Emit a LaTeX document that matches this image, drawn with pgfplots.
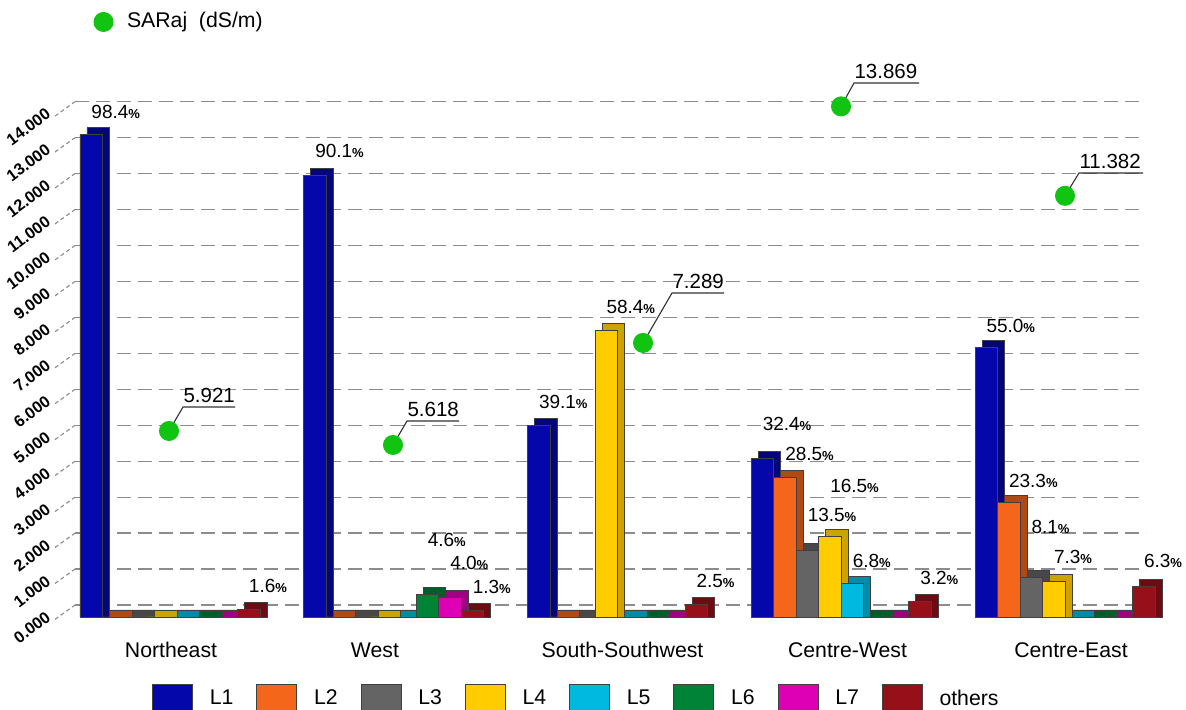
\documentclass[border=0pt]{standalone}
\usepackage{fontspec}
\setmainfont{Liberation Sans}
\usepackage{pgfplots}
\usepackage{pgfplotstable}
\pgfplotsset{compat=1.18}

\definecolor{cA}{RGB}{4,8,170}
\definecolor{cB}{RGB}{244,102,26}
\definecolor{cC}{RGB}{100,100,100}
\definecolor{cD}{RGB}{255,204,0}
\definecolor{cE}{RGB}{0,185,225}
\definecolor{cF}{RGB}{0,130,55}
\definecolor{cG}{RGB}{222,0,180}
\definecolor{cH}{RGB}{150,15,25}
\definecolor{sargreen}{RGB}{18,196,18}

% bar heights (percent)
\pgfplotstableread{
x L1 L2 L3 L4 L5 L6 L7 others
0 98.4 0 0 0 0 0 0 1.6
1 90.1 0 0 0 0 4.6 4.0 1.3
2 39.1 0 0 58.4 0 0 0 2.5
3 32.4 28.5 13.5 16.5 6.8 0 0 3.2
4 55.0 23.3 8.1 7.3 0 0 0 6.3
}\bars

% percent labels: position (x, y in percent units) and text
\pgfplotstableread{
x y label
-0.3531 101.8 98.4
0.3508 4.9 1.6
0.6469 93.7 90.1
1.1497 14.35 4.6
1.2503 9.6 4.0
1.3508 4.7 1.3
1.6469 42.65 39.1
1.9486 62.04 58.4
2.3508 5.92 2.5
2.6469 38.16 32.4
2.7475 31.84 28.5
2.8480 19.39 13.5
2.9486 25.31 16.5
3.0492 10.20 6.8
3.3508 6.73 3.2
3.6469 58.16 55.0
3.7475 26.53 23.3
3.8480 17.14 8.1
3.9486 11.02 7.3
4.3508 10.0 6.3
}\pctlabels

% SARaj points
\pgfplotstableread{
x y
-0.0045 4.84
0.9966 4.451
2.1140 7.289
2.9989 13.869
4.0000 11.382
}\sar

\pgfplotstableread{
x y label
0.0581 5.508 5.921
1.0592 5.118 5.618
2.2436 8.679 7.289
3.0570 14.520 13.869
4.0626 12.017 11.382
}\sarlab

\pgfplotsset{
  frame/.style={scale only axis, width=428.4pt, height=206.8pt,
    at={(30pt,37.2pt)}, anchor=south west,
    xmin=-0.4246, xmax=4.3620},
  mybar/.style={ybar, bar width=0.10056, line width=0.3pt, draw=black!75,
    legend image code/.code={\draw[##1, line width=0.3pt] (0pt,-6pt) rectangle (16pt,6pt);}},
  sidetick/.style={black!45, line width=0.45pt, dash pattern=on 1.6pt off 1.2pt, forget plot},
}

\begin{document}
\begin{tikzpicture}
\path[use as bounding box] (0,0) rectangle (474.4pt,284pt);

% ---- grid / ticks axis (SARaj units)
\begin{axis}[frame, ymin=-0.3338, ymax=14.047,
  axis line style={draw=none}, clip=false,
  ytick={0,1,...,14},
  xtick={0.0045,0.916,2.0223,3.0279,4.0268},
  xticklabels={Northeast,West,South-Southwest,Centre-West,Centre-East},
  major tick length=0pt,
  ymajorgrids, major grid style={black!45, line width=0.5pt, dash pattern=on 5.6pt off 2.8pt},
  yticklabel={\pgfmathprintnumber[fixed,fixed zerofill,precision=3,assume math mode=true]{\tick}},
  yticklabel style={font=\fontsize{6.5}{7}\selectfont\bfseries, rotate=37, anchor=east,
    inner sep=0pt, xshift=-10.8pt, yshift=3.2pt},
  xticklabel style={font=\fontsize{8.5}{10}\selectfont, anchor=base, yshift=-16pt, inner sep=0pt},
]
\addplot[sidetick] coordinates {(-0.514,-0.40) (-0.4246,0)};
\addplot[sidetick] coordinates {(-0.514,0.60) (-0.4246,1)};
\addplot[sidetick] coordinates {(-0.514,1.60) (-0.4246,2)};
\addplot[sidetick] coordinates {(-0.514,2.60) (-0.4246,3)};
\addplot[sidetick] coordinates {(-0.514,3.60) (-0.4246,4)};
\addplot[sidetick] coordinates {(-0.514,4.60) (-0.4246,5)};
\addplot[sidetick] coordinates {(-0.514,5.60) (-0.4246,6)};
\addplot[sidetick] coordinates {(-0.514,6.60) (-0.4246,7)};
\addplot[sidetick] coordinates {(-0.514,7.60) (-0.4246,8)};
\addplot[sidetick] coordinates {(-0.514,8.60) (-0.4246,9)};
\addplot[sidetick] coordinates {(-0.514,9.60) (-0.4246,10)};
\addplot[sidetick] coordinates {(-0.514,10.60) (-0.4246,11)};
\addplot[sidetick] coordinates {(-0.514,11.60) (-0.4246,12)};
\addplot[sidetick] coordinates {(-0.514,12.60) (-0.4246,13)};
\addplot[sidetick] coordinates {(-0.514,13.60) (-0.4246,14)};
\end{axis}

% ---- bars axis (percent units)
\begin{axis}[frame, ymin=0, ymax=105.51, hide axis, clip=false,
  legend columns=8, legend cell align=left,
  legend style={at={(axis description cs:0.0719,-0.1296)}, anchor=north west,
    draw=none, fill=none, inner sep=0pt, outer sep=0pt, column sep=0pt,
    nodes={inner sep=0pt, font=\fontsize{8.5}{10}\selectfont},
    /tikz/every even column/.style={column sep=0pt},
    /tikz/every odd column/.style={column sep=0pt}},
]
\addplot[mybar, bar shift=-0.3207, fill=cA!72!black, forget plot] table[x=x, y expr=\thisrow{L1}+1.43]{\bars};
\addplot[mybar, bar shift=-0.3520, fill=cA] table[x=x, y=L1]{\bars};
\addlegendentry{\hspace*{6.8pt}\makebox[18.6pt][l]{L1}}
\addplot[mybar, bar shift=-0.2201, fill=cB!72!black, forget plot] table[x=x, y expr=\thisrow{L2}+1.43]{\bars};
\addplot[mybar, bar shift=-0.2514, fill=cB] table[x=x, y=L2]{\bars};
\addlegendentry{\hspace*{6.8pt}\makebox[18.6pt][l]{L2}}
\addplot[mybar, bar shift=-0.1195, fill=cC!72!black, forget plot] table[x=x, y expr=\thisrow{L3}+1.43]{\bars};
\addplot[mybar, bar shift=-0.1508, fill=cC] table[x=x, y=L3]{\bars};
\addlegendentry{\hspace*{6.8pt}\makebox[18.6pt][l]{L3}}
\addplot[mybar, bar shift=-0.0190, fill=cD!80!black, forget plot] table[x=x, y expr=\thisrow{L4}+1.43]{\bars};
\addplot[mybar, bar shift=-0.0503, fill=cD] table[x=x, y=L4]{\bars};
\addlegendentry{\hspace*{6.8pt}\makebox[18.6pt][l]{L4}}
\addplot[mybar, bar shift=0.0816, fill=cE!75!black, forget plot] table[x=x, y expr=\thisrow{L5}+1.43]{\bars};
\addplot[mybar, bar shift=0.0503, fill=cE] table[x=x, y=L5]{\bars};
\addlegendentry{\hspace*{6.8pt}\makebox[18.6pt][l]{L5}}
\addplot[mybar, bar shift=0.1821, fill=cF!72!black, forget plot] table[x=x, y expr=\thisrow{L6}+1.43]{\bars};
\addplot[mybar, bar shift=0.1508, fill=cF] table[x=x, y=L6]{\bars};
\addlegendentry{\hspace*{6.8pt}\makebox[18.6pt][l]{L6}}
\addplot[mybar, bar shift=0.2827, fill=cG!72!black, forget plot] table[x=x, y expr=\thisrow{L7}+1.43]{\bars};
\addplot[mybar, bar shift=0.2514, fill=cG] table[x=x, y=L7]{\bars};
\addlegendentry{\hspace*{6.8pt}\makebox[18.6pt][l]{L7}}
\addplot[mybar, bar shift=0.3833, fill=cH!72!black, forget plot] table[x=x, y expr=\thisrow{others}+1.43]{\bars};
\addplot[mybar, bar shift=0.3520, fill=cH] table[x=x, y=others]{\bars};
\addlegendentry{\hspace*{6.8pt}\makebox[18.6pt][l]{others}}

\addplot[draw=none, mark=none, forget plot, point meta=explicit symbolic,
  nodes near coords={\pgfplotspointmeta{\fontsize{5.2}{6}\selectfont\bfseries\%}},
  every node near coord/.style={anchor=base west, inner sep=0pt, font=\fontsize{7.6}{8}\selectfont}]
  table[x=x, y=y, meta=label]{\pctlabels};
\end{axis}

% ---- SARaj axis
\begin{axis}[frame, ymin=-0.3338, ymax=14.047, hide axis, clip=false,
  legend style={at={(axis description cs:0.0173,1.1509)}, anchor=west,
    draw=none, fill=none, inner sep=0pt, outer sep=0pt,
    nodes={inner sep=0pt, font=\fontsize{8.5}{10}\selectfont}},
]
\addplot[black!80, line width=0.45pt, forget plot] coordinates {(-0.0045,4.84) (0.0581,5.508) (0.2905,5.508)};
\addplot[black!80, line width=0.45pt, forget plot] coordinates {(0.9966,4.451) (1.0592,5.118) (1.2916,5.118)};
\addplot[black!80, line width=0.45pt, forget plot] coordinates {(2.1140,7.289) (2.2436,8.679) (2.4760,8.679)};
\addplot[black!80, line width=0.45pt, forget plot] coordinates {(2.9989,13.869) (3.0570,14.520) (3.3475,14.520)};
\addplot[black!80, line width=0.45pt, forget plot] coordinates {(4.0000,11.382) (4.0626,12.017) (4.3486,12.017)};
\addplot[only marks, mark=*, mark size=3.8pt, sargreen, mark options={draw=none, fill=sargreen},
  legend image code/.code={\fill[sargreen] (3.8pt,0pt) circle[radius=3.8pt];}]
  table[x=x, y=y]{\sar};
\addlegendentry{\hspace*{5.4pt}SARaj\hspace{0.55em}(dS/m)}
\addplot[draw=none, mark=none, forget plot, point meta=explicit symbolic,
  nodes near coords={\pgfplotspointmeta},
  every node near coord/.style={anchor=south west, inner sep=0pt, yshift=1.4pt, font=\fontsize{8.2}{9}\selectfont}]
  table[x=x, y=y, meta=label]{\sarlab};
\end{axis}
\end{tikzpicture}
\end{document}
